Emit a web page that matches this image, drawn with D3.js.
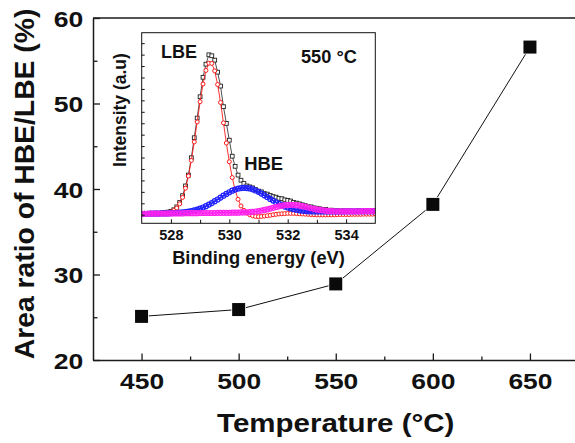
<!DOCTYPE html>
<html>
<head>
<meta charset="utf-8">
<script src="https://cdn.jsdelivr.net/npm/d3@7"></script>
<style>
  html, body { margin: 0; padding: 0; background: #fff; }
  svg { display: block; font-family: "Liberation Sans", Arial, Helvetica, sans-serif; font-weight: bold; }
</style>
</head>
<body>
<svg id="chart" width="575" height="443"></svg>
<script>
// ---------- Main chart data ----------
const temperatures = [450, 500, 550, 600, 650];
const areaRatio = [25.1, 25.9, 28.9, 38.2, 56.6];
const yTicks = [20, 30, 40, 50, 60];
const xTicks = [450, 500, 550, 600, 650];

// ---------- Inset (XPS O1s at 550 °C) data ----------
const bindingEnergy = [
  527.0,527.1,527.2,527.3,527.4,527.5,527.6,527.7,527.8,527.9,
  528.0,528.1,528.2,528.3,528.4,528.5,528.6,528.7,528.8,528.9,
  529.0,529.1,529.2,529.3,529.4,529.5,529.6,529.7,529.8,529.9,
  530.0,530.1,530.2,530.3,530.4,530.5,530.6,530.7,530.8,530.9,
  531.0,531.1,531.2,531.3,531.4,531.5,531.6,531.7,531.8,531.9,
  532.0,532.1,532.2,532.3,532.4,532.5,532.6,532.7,532.8,532.9,
  533.0,533.1,533.2,533.3,533.4,533.5,533.6,533.7,533.8,533.9,
  534.0,534.1,534.2,534.3,534.4,534.5,534.6,534.7,534.8,534.9,
  535.0
];
const measured = [
  4.6,5.2,4.9,5.3,5.0,5.4,5.1,5.5,5.6,5.9,
  6.3,7.1,8.6,10.9,14.5,19.6,25.3,34.4,44.9,55.2,
  66.4,76.6,83.5,88.4,87.9,85.6,79.3,72.0,61.2,52.4,
  43.6,35.2,29.9,25.3,22.6,20.9,19.6,19.1,18.6,17.7,
  16.9,16.5,15.6,15.3,14.6,14.0,13.7,13.1,12.9,12.3,
  12.0,11.7,11.0,10.6,10.2,9.7,9.3,8.7,8.6,8.1,
  7.9,7.6,7.2,7.3,6.8,6.9,6.5,6.7,6.3,6.6,
  6.2,6.5,5.9,6.1,6.6,6.3,6.0,6.5,6.7,6.4,
  6.6
];
const lbeFit = [
  5.0,5.0,5.0,5.0,5.0,5.0,5.0,5.1,5.2,5.4,
  5.9,6.7,8.0,10.2,13.6,18.4,24.8,33.0,42.7,53.2,
  63.8,73.1,80.2,84.0,83.9,80.0,72.8,63.4,52.7,42.1,
  32.3,24.0,17.5,12.6,9.1,6.8,5.4,4.5,3.9,3.6,
  3.5,3.6,3.8,4.0,4.2,4.5,4.7,4.9,5.0,5.1,
  5.2,5.2,5.2,5.1,5.0,4.9,4.8,4.7,4.6,4.5,
  4.4,4.4,4.4,4.4,4.5,4.5,4.5,4.5,4.6,4.6,
  4.6,4.6,4.7,4.7,4.7,4.7,4.8,4.8,4.8,4.8,
  4.9
];
const hbeFit = [
  5.0,5.0,5.0,5.1,5.1,5.1,5.1,5.2,5.2,5.2,
  5.3,5.4,5.5,5.6,5.7,5.9,6.1,6.4,6.8,7.2,
  7.7,8.3,9.0,9.8,10.6,11.6,12.5,13.5,14.5,15.4,
  16.3,17.1,17.7,18.2,18.5,18.6,18.5,18.3,17.8,17.2,
  16.5,15.6,14.7,13.8,12.8,11.9,11.0,10.2,9.5,8.8,
  8.3,7.8,7.4,7.1,6.8,6.6,6.5,6.3,6.3,6.2,
  6.2,6.2,6.2,6.2,6.2,6.2,6.2,6.2,6.2,6.2,
  6.3,6.3,6.3,6.3,6.3,6.3,6.3,6.3,6.3,6.3,
  6.4
];
const thirdFit = [
  5.0,5.0,5.0,5.1,5.1,5.1,5.1,5.1,5.1,5.2,
  5.2,5.2,5.2,5.2,5.2,5.3,5.3,5.3,5.3,5.3,
  5.4,5.4,5.4,5.4,5.4,5.4,5.5,5.5,5.5,5.5,
  5.5,5.6,5.6,5.6,5.7,5.7,5.8,5.9,6.0,6.2,
  6.4,6.7,7.0,7.3,7.7,8.1,8.5,8.9,9.2,9.5,
  9.6,9.7,9.7,9.5,9.3,9.0,8.7,8.3,7.9,7.6,
  7.3,7.0,6.8,6.6,6.5,6.4,6.3,6.3,6.3,6.3,
  6.3,6.3,6.3,6.3,6.3,6.3,6.4,6.4,6.4,6.4,
  6.4
];
const insetXTicks = [528, 530, 532, 534];
const insetXMinor = [529, 531, 533];

// ---------- Layout ----------
const svg = d3.select("#chart");
const M = { left: 93, top: 18, bottom: 360, right: 578.5 };
const x = d3.scaleLinear().domain([425, 675]).range([M.left, M.right]);
const y = d3.scaleLinear().domain([20, 60]).range([M.bottom, M.top]);
const axisColor = "#1a1a1a";

// top frame line
svg.append("line")
  .attr("x1", M.left).attr("x2", 575).attr("y1", M.top).attr("y2", M.top)
  .attr("stroke", axisColor).attr("stroke-width", 1.5);

// minor x ticks
svg.append("g").attr("transform", `translate(0,${M.bottom})`)
  .call(d3.axisBottom(x).tickValues([475, 525, 575, 625]).tickSize(-3.5).tickSizeOuter(0).tickFormat(""))
  .call(g => g.select(".domain").remove())
  .call(g => g.selectAll("line").attr("stroke", axisColor).attr("stroke-width", 1.3));

// major x axis
const gx = svg.append("g").attr("transform", `translate(0,${M.bottom})`)
  .call(d3.axisBottom(x).tickValues(xTicks).tickSize(-6.5).tickSizeOuter(0).tickFormat(d3.format("d")));
gx.select(".domain").attr("stroke", axisColor).attr("stroke-width", 1.5);
gx.selectAll("line").attr("stroke", axisColor).attr("stroke-width", 1.3);
gx.selectAll("text")
  .attr("y", 29).attr("dy", 0)
  .attr("fill", "#111").attr("font-size", 22).attr("font-weight", "bold")
  .attr("font-family", "'Liberation Sans', Arial, sans-serif")
  .attr("transform", "scale(1.2,1)");

// minor y ticks
svg.append("g").attr("transform", `translate(${M.left},0)`)
  .call(d3.axisLeft(y).tickValues([25, 35, 45, 55]).tickSize(-4.5).tickSizeOuter(0).tickFormat(""))
  .call(g => g.select(".domain").remove())
  .call(g => g.selectAll("line").attr("stroke", axisColor).attr("stroke-width", 1.3));

// major y axis
const gy = svg.append("g").attr("transform", `translate(${M.left},0)`)
  .call(d3.axisLeft(y).tickValues(yTicks).tickSize(-7).tickSizeOuter(0).tickFormat(d3.format("d")));
gy.select(".domain").attr("stroke", axisColor).attr("stroke-width", 1.5);
gy.selectAll("line").attr("stroke", axisColor).attr("stroke-width", 1.3);
gy.selectAll("text")
  .attr("x", -10 / 1.2).attr("dy", "0.36em")
  .attr("fill", "#111").attr("font-size", 22.5).attr("font-weight", "bold")
  .attr("font-family", "'Liberation Sans', Arial, sans-serif")
  .attr("transform", "scale(1.18,1)");

// axis titles
svg.append("text")
  .attr("transform", `translate(${(M.left + M.right) / 2},431.5) scale(1.18,1)`)
  .attr("text-anchor", "middle").attr("font-size", 25).attr("fill", "#111")
  .text("Temperature (°C)");
svg.append("text")
  .attr("transform", "translate(33.5,184) rotate(-90)")
  .attr("text-anchor", "middle").attr("font-size", 28.3).attr("fill", "#111")
  .text("Area ratio of HBE/LBE (%)");

// main series
const pts = temperatures.map((t, i) => [t, areaRatio[i]]);
svg.append("path")
  .attr("d", d3.line().x(d => x(d[0])).y(d => y(d[1]))(pts))
  .attr("fill", "none").attr("stroke", "#111").attr("stroke-width", 1);
const sq = 13;
svg.append("g").selectAll("rect").data(pts).join("rect")
  .attr("x", d => x(d[0]) - sq / 2).attr("y", d => y(d[1]) - sq / 2)
  .attr("width", sq).attr("height", sq)
  .attr("fill", "#0a0a0a").attr("stroke", "#fff").attr("stroke-width", 1.5)
  .attr("paint-order", "stroke");

// ---------- Inset ----------
const I = { left: 141.7, right: 375.3, top: 32.7, bottom: 223.3 };
const ix = d3.scaleLinear().domain([527, 535]).range([I.left, I.right]);
const iy = d3.scaleLinear().domain([0, 100]).range([I.bottom, I.top]);

svg.append("rect")
  .attr("x", I.left).attr("y", I.top).attr("width", I.right - I.left).attr("height", I.bottom - I.top)
  .attr("fill", "#fff").attr("stroke", "none");

svg.append("clipPath").attr("id", "insetClip").append("rect")
  .attr("x", I.left).attr("y", I.top).attr("width", I.right - I.left).attr("height", I.bottom - I.top);

const ig = svg.append("g").attr("clip-path", "url(#insetClip)");
const lineGen = arr => d3.line().x((d, i) => ix(bindingEnergy[i])).y(d => iy(d))(arr);

// measured data: black open squares + line
ig.append("path").attr("d", lineGen(measured)).attr("fill", "none").attr("stroke", "#222").attr("stroke-width", 0.8);
ig.append("g").selectAll("rect").data(measured).join("rect")
  .attr("x", (d, i) => ix(bindingEnergy[i]) - 1.9).attr("y", d => iy(d) - 1.9)
  .attr("width", 3.8).attr("height", 3.8)
  .attr("fill", "#fff").attr("stroke", "#222").attr("stroke-width", 0.9);

// LBE fit: red open circles
ig.append("path").attr("d", lineGen(lbeFit)).attr("fill", "none").attr("stroke", "#ff1a1a").attr("stroke-width", 0.9);
ig.append("g").selectAll("circle").data(lbeFit).join("circle")
  .attr("cx", (d, i) => ix(bindingEnergy[i])).attr("cy", d => iy(d)).attr("r", 2)
  .attr("fill", "#fff").attr("stroke", "#ff1a1a").attr("stroke-width", 1);

// HBE fit: blue
ig.append("path").attr("d", lineGen(hbeFit)).attr("fill", "none").attr("stroke", "#1f1fff").attr("stroke-width", 1.5);
ig.append("g").selectAll("circle").data(hbeFit).join("circle")
  .attr("cx", (d, i) => ix(bindingEnergy[i])).attr("cy", d => iy(d)).attr("r", 2.5)
  .attr("fill", "none").attr("stroke", "#1f1fff").attr("stroke-width", 1.2);

// third component: magenta
ig.append("path").attr("d", lineGen(thirdFit)).attr("fill", "none").attr("stroke", "#ff22ee").attr("stroke-width", 1.5);
ig.append("g").selectAll("circle").data(thirdFit).join("circle")
  .attr("cx", (d, i) => ix(bindingEnergy[i])).attr("cy", d => iy(d)).attr("r", 2.5)
  .attr("fill", "none").attr("stroke", "#ff22ee").attr("stroke-width", 1.2);

// inset frame
svg.append("rect")
  .attr("x", I.left).attr("y", I.top).attr("width", I.right - I.left).attr("height", I.bottom - I.top)
  .attr("fill", "none").attr("stroke", "#111").attr("stroke-width", 1);

// inset x axis
svg.append("g").attr("transform", `translate(0,${I.bottom})`)
  .call(d3.axisBottom(ix).tickValues(insetXMinor).tickSize(-3.5).tickSizeOuter(0).tickFormat(""))
  .call(g => g.select(".domain").remove())
  .call(g => g.selectAll("line").attr("stroke", "#111"));
const igx = svg.append("g").attr("transform", `translate(0,${I.bottom})`)
  .call(d3.axisBottom(ix).tickValues(insetXTicks).tickSize(-4).tickSizeOuter(0).tickFormat(d3.format("d")));
igx.select(".domain").remove();
igx.selectAll("line").attr("stroke", "#111");
igx.selectAll("text")
  .attr("y", 16.3).attr("dy", 0)
  .attr("fill", "#111").attr("font-size", 14.5).attr("font-weight", "bold")
  .attr("font-family", "'Liberation Sans', Arial, sans-serif");

// inset y ticks (no labels)
svg.append("g").attr("transform", `translate(${I.left},0)`)
  .call(d3.axisLeft(iy).tickValues(d3.range(4.5, 98, 6)).tickSize(-3).tickSizeOuter(0).tickFormat(""))
  .call(g => g.select(".domain").remove())
  .call(g => g.selectAll("line").attr("stroke", "#111"));

// inset labels
svg.append("text")
  .attr("x", (I.left + I.right) / 2).attr("y", 264)
  .attr("text-anchor", "middle").attr("font-size", 18.3).attr("fill", "#111")
  .text("Binding energy (eV)");
svg.append("text")
  .attr("transform", "translate(125.5,110) rotate(-90)")
  .attr("text-anchor", "middle").attr("font-size", 17.5).attr("fill", "#111")
  .text("Intensity (a.u)");
svg.append("text")
  .attr("x", 161).attr("y", 58.3).attr("font-size", 18).attr("fill", "#111")
  .text("LBE");
svg.append("text")
  .attr("x", 244.3).attr("y", 170).attr("font-size", 18.4).attr("fill", "#111")
  .text("HBE");
svg.append("text")
  .attr("x", 301).attr("y", 63.3).attr("font-size", 18.2).attr("fill", "#111")
  .text("550 °C");
</script>
</body>
</html>
